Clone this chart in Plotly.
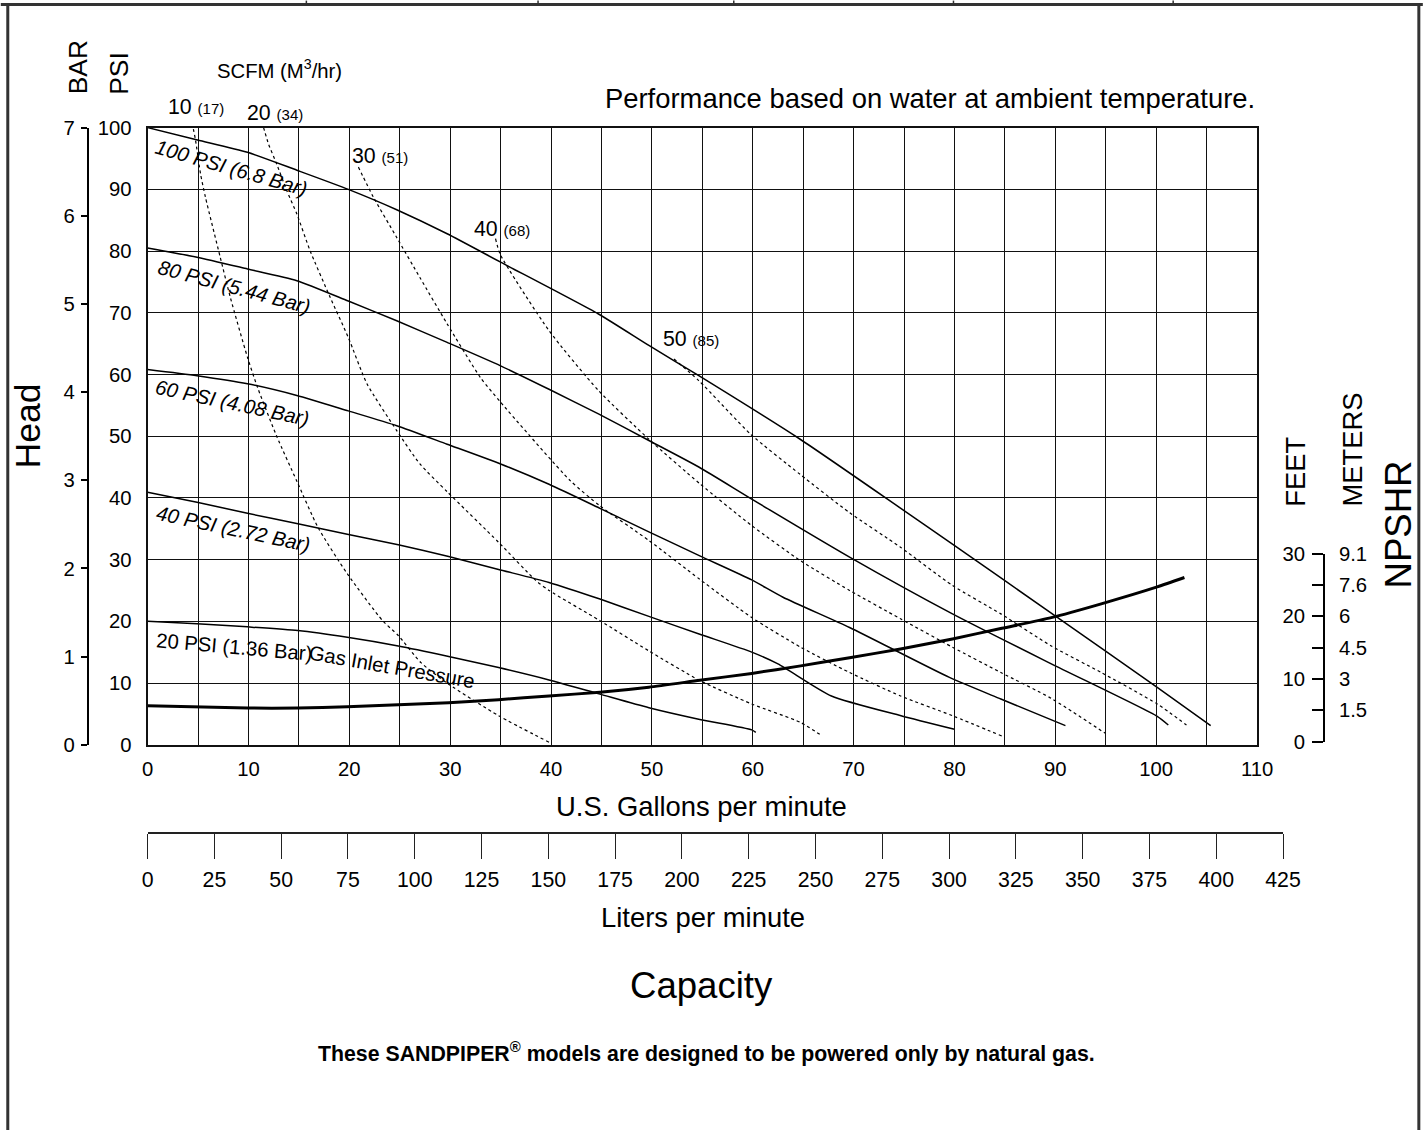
import plotly.graph_objects as go

FONT = "Liberation Sans, Arial, Helvetica, sans-serif"

# ---------------- data ----------------
# Gas inlet pressure curves: flow (US GPM) vs head (PSI)
psi100_gpm = [0, 4.95, 9.9, 14.8, 19.9, 24.7, 29.7, 35.0, 44.7, 49.7, 54.65, 64.7, 74.5, 79.8, 89.7, 100.1, 105.4]
psi100_head = [100, 98.0, 96.0, 93.1, 90.0, 86.7, 82.8, 78.2, 69.8, 64.7, 59.8, 49.5, 38.5, 32.5, 21.2, 9.3, 3.1]

psi80_gpm = [0, 4.9, 9.9, 14.8, 19.9, 24.7, 29.7, 35.0, 39.8, 44.7, 49.7, 54.65, 59.9, 69.6, 79.8, 89.6, 100.1, 101.2]
psi80_head = [80.5, 79.0, 77.1, 75.2, 71.9, 68.7, 65.2, 61.4, 57.6, 53.6, 49.3, 45.0, 39.8, 30.4, 21.2, 13.1, 4.6, 3.2]

psi60_gpm = [0, 4.9, 9.9, 14.8, 19.9, 24.7, 29.7, 35.0, 39.8, 44.85, 49.7, 54.75, 59.9, 63.0, 69.6, 79.5, 84.6, 91.0]
psi60_head = [60.8, 59.8, 58.5, 56.6, 54.1, 51.7, 48.7, 45.5, 42.2, 38.3, 34.5, 30.6, 26.7, 23.9, 19.0, 10.9, 7.4, 3.1]

psi40_gpm = [0, 4.9, 9.9, 14.9, 19.8, 24.85, 29.85, 34.8, 39.8, 44.85, 49.7, 54.75, 59.9, 62.5, 67.8, 74.7, 80.0]
psi40_head = [40.9, 39.3, 37.5, 35.8, 34.1, 32.4, 30.5, 28.4, 26.3, 23.6, 20.8, 17.9, 15.0, 13.1, 7.9, 4.7, 2.5]

psi20_gpm = [0, 4.9, 9.9, 14.9, 19.8, 24.85, 29.85, 34.8, 39.8, 44.85, 49.7, 54.75, 59.9, 60.3]
psi20_head = [20.0, 19.6, 19.1, 18.5, 17.4, 16.0, 14.3, 12.5, 10.5, 8.2, 6.0, 4.1, 2.4, 2.0]

# Air (gas) consumption curves, SCFM: flow (GPM) vs head (PSI)
scfm10_gpm = [4.3, 4.75, 5.25, 5.74, 7.2, 8.2, 9.9, 10.9, 12.8, 14.8, 16.9, 19.8, 23.3, 24.85, 27.1, 29.85, 34.8, 39.8]
scfm10_head = [101.7, 98.0, 92.5, 88.7, 79.0, 72.5, 62.8, 57.9, 50.0, 42.7, 35.2, 27.7, 20.1, 17.7, 13.3, 9.8, 4.7, 0.4]

scfm20_gpm = [11.5, 12.0, 12.8, 13.8, 14.8, 16.1, 18.1, 19.9, 21.75, 24.7, 27.0, 29.7, 34.8, 38.5, 39.8, 44.85, 49.7, 54.75, 59.9, 64.75, 66.8]
scfm20_head = [100, 97.3, 94.1, 89.8, 86.0, 80.1, 72.5, 66.0, 58.5, 50.9, 45.5, 41.0, 32.8, 26.6, 25.0, 20.1, 15.2, 10.4, 6.6, 3.6, 1.5]

scfm30_gpm = [20.9, 22.4, 24.7, 27.0, 29.7, 33.0, 35.0, 41.9, 44.85, 49.7, 54.75, 59.9, 64.75, 69.6, 74.65, 79.8, 84.85]
scfm30_head = [93.6, 88.7, 82.2, 75.7, 68.2, 59.5, 55.5, 42.8, 38.7, 33.1, 26.8, 20.6, 15.8, 11.7, 7.9, 4.7, 1.3]

scfm40_gpm = [34.5, 34.95, 39.8, 44.7, 49.7, 54.75, 59.9, 64.75, 69.6, 74.65, 79.8, 84.6, 89.6, 95.0]
scfm40_head = [82.0, 79.5, 67.1, 57.4, 49.5, 42.3, 35.5, 29.8, 25.0, 20.4, 15.8, 11.7, 7.5, 1.8]

scfm50_gpm = [52.2, 54.65, 59.8, 64.7, 69.6, 74.65, 79.8, 84.6, 89.6, 94.55, 100.1, 103.0]
scfm50_head = [62.5, 59.0, 50.3, 43.8, 37.6, 32.0, 25.8, 21.2, 16.0, 11.7, 6.6, 3.2]

# NPSHR curve: flow (GPM) vs feet
npshr_gpm = [0, 9.9, 14.9, 19.8, 24.85, 29.85, 34.8, 39.8, 44.85, 49.7, 54.75, 59.9, 64.75, 69.6, 74.65, 79.8, 84.7, 89.6, 94.55, 100.1, 102.8]
npshr_ft = [5.74, 5.37, 5.37, 5.58, 5.9, 6.2, 6.7, 7.3, 7.9, 8.7, 9.8, 10.9, 12.1, 13.4, 14.8, 16.4, 18.1, 19.8, 22.0, 24.7, 26.2]

# Tick values / labels
gpm_ticks = list(range(0, 111, 10))
lpm_ticks = list(range(0, 426, 25))
psi_ticks = list(range(0, 101, 10))
bar_ticks = list(range(0, 8))
feet_ticks = [0, 10, 20, 30]
feet_minor = [5, 15, 25]
meter_ticks = [5, 10, 15, 20, 25, 30]
meter_labels = ["1.5", "3", "4.5", "6", "7.6", "9.1"]

pressure_labels = ["<i>100 PSI (6.8 Bar)</i>", "<i>80 PSI (5.44 Bar)</i>", "<i>60 PSI (4.08 Bar)</i>",
                   "<i>40 PSI (2.72 Bar)</i>", "20 PSI (1.36 Bar)", "Gas Inlet Pressure"]
scfm_labels = [("10", "(17)"), ("20", "(34)"), ("30", "(51)"), ("40", "(68)"), ("50", "(85)")]

# ---------------- figure geometry ----------------
# target positions are given in picture pixels; the page is captured slightly
# scaled/offset, so convert picture pixels to page pixels.
SX, SY = 0.9847, 0.9806
CX, CY = -5.3, -10.6
WF, HF = 1441, 1142

def P(px):
    return (px / SX + CX) / WF

def Q(py):
    return 1 - (py / SY + CY) / HF

def F(sz):
    return round(sz / SX, 1)

fig = go.Figure()

solid = dict(color="black", width=1.5, shape="spline", smoothing=0.6)
for gx, gy in [(psi100_gpm, psi100_head), (psi80_gpm, psi80_head), (psi60_gpm, psi60_head),
               (psi40_gpm, psi40_head), (psi20_gpm, psi20_head)]:
    fig.add_trace(go.Scatter(x=gx, y=gy, mode="lines", line=solid, hoverinfo="skip"))

dashed = dict(color="black", width=1.2, dash="3px,3px", shape="spline", smoothing=0.6)
for gx, gy in [(scfm10_gpm, scfm10_head), (scfm20_gpm, scfm20_head), (scfm30_gpm, scfm30_head),
               (scfm40_gpm, scfm40_head), (scfm50_gpm, scfm50_head)]:
    fig.add_trace(go.Scatter(x=gx, y=gy, mode="lines", line=dashed, hoverinfo="skip"))

fig.add_trace(go.Scatter(x=npshr_gpm, y=npshr_ft, mode="lines", xaxis="x", yaxis="y3",
                         line=dict(color="black", width=3, shape="spline", smoothing=0.6), hoverinfo="skip"))

# dummy traces so that auxiliary axes are drawn
fig.add_trace(go.Scatter(x=[None], y=[None], xaxis="x", yaxis="y2", hoverinfo="skip"))
fig.add_trace(go.Scatter(x=[None], y=[None], xaxis="x2", yaxis="y3", hoverinfo="skip"))
fig.add_trace(go.Scatter(x=[None], y=[None], xaxis="x", yaxis="y4", hoverinfo="skip"))

tickfont = dict(family=FONT, size=F(20), color="black")
GRID = "#111"

fig.update_layout(
    width=WF, height=HF,
    margin=dict(l=0, r=0, t=0, b=0),
    paper_bgcolor="white", plot_bgcolor="rgba(0,0,0,0)",
    showlegend=False,
    font=dict(family=FONT, color="black"),
    xaxis=dict(domain=[P(147), P(1258)], range=[0, 110], tickvals=gpm_ticks,
               showgrid=True, gridcolor=GRID, gridwidth=1, zeroline=False,
               minor=dict(dtick=5, tick0=0, showgrid=True, gridcolor=GRID, gridwidth=1, ticks=""),
               showline=True, linecolor="#111", linewidth=2, mirror=True,
               ticks="", tickfont=tickfont, ticklabelstandoff=5, fixedrange=True),
    yaxis=dict(domain=[Q(744), Q(127)], range=[0, 100], tickvals=psi_ticks,
               showgrid=True, gridcolor=GRID, gridwidth=1, zeroline=False,
               showline=True, linecolor="#111", linewidth=2, mirror=True,
               ticks="", tickfont=tickfont, ticklabelstandoff=10, fixedrange=True),
    yaxis2=dict(overlaying="y", anchor="free", position=P(87), side="left", range=[0, 7],
                tickvals=bar_ticks, showgrid=False, zeroline=False, showline=True,
                linecolor="black", linewidth=1.5, ticks="outside", ticklen=6, tickwidth=1.5,
                tickcolor="black", tickfont=tickfont, ticklabelstandoff=2),
    xaxis2=dict(domain=[P(147), P(1284)], anchor="free", position=Q(832), side="bottom",
                range=[0, 425], tickvals=lpm_ticks, showgrid=False, zeroline=False,
                showline=True, linecolor="#222", linewidth=2, ticks="outside", ticklen=25,
                tickwidth=1.2, tickcolor="#222", tickfont=dict(family=FONT, size=F(21), color="black"),
                ticklabelstandoff=3),
    yaxis3=dict(domain=[Q(741), Q(553)], anchor="free", position=P(1325), side="left",
                range=[0, 30], tickvals=feet_ticks, showgrid=False,
                zeroline=False, showline=True, linecolor="black", linewidth=1.5,
                ticks="outside", ticklen=11, tickwidth=1.5, tickcolor="black",
                minor=dict(tickvals=feet_minor, ticks="outside", ticklen=11, tickwidth=1.5,
                           tickcolor="black", showgrid=False),
                tickfont=tickfont, ticklabelstandoff=3),
    yaxis4=dict(overlaying="y3", anchor="free", position=P(1325), side="right",
                range=[0, 30], tickvals=meter_ticks, ticktext=meter_labels, showgrid=False,
                zeroline=False, showline=False, ticks="", tickfont=tickfont, ticklabelstandoff=14),
)

ann = []
def text(x, y, s, size, xa="center", ya="middle", angle=0):
    ann.append(dict(x=P(x), y=Q(y), xref="paper", yref="paper", text=s, showarrow=False,
                    xanchor=xa, yanchor=ya, textangle=angle,
                    font=dict(family=FONT, size=F(size), color="black")))

# axis titles / headers
text(77, 96, "BAR", 26, ya="bottom", angle=-90)
text(118, 96, "PSI", 26, ya="bottom", angle=-90)
text(215, 68, "SCFM (M<sup>3</sup>/hr)", 20, xa="left")
text(1258, 98, "Performance based on water at ambient temperature.", 27, xa="right")
text(27, 425, "Head", 35, angle=-90)
text(1297, 508, "FEET", 27, ya="bottom", angle=-90)
text(1354, 508, "METERS", 27, ya="bottom", angle=-90)
text(1400, 524, "NPSHR", 36, angle=-90)
text(702, 806, "U.S. Gallons per minute", 27)
text(703, 917, "Liters per minute", 27)
text(702, 985, "Capacity", 36)
text(707, 1052, "<b>These SANDPIPER<sup>®</sup> models are designed to be powered only by natural gas.</b>", 21)

# pressure curve labels
for s, (cx, cy, ang) in zip(pressure_labels, [(231, 167, 16), (234, 286, 15), (232, 402, 12),
                                             (233, 528, 12), (234, 646, 5), (392, 666, 10)]):
    text(cx, cy, s, 20, angle=ang)

# SCFM labels
for (a, b), (lx, ly) in zip(scfm_labels, [(165, 106), (245, 112), (350, 155), (472, 228), (661, 338)]):
    text(lx, ly, a + " <span style='font-size:15px'>" + b + "</span>", 21, xa="left")

fig.update_layout(annotations=ann)

# outer frame
shp = []
def line(x0, y0, x1, y1, w=3, c="#333"):
    shp.append(dict(type="line", xref="paper", yref="paper", x0=P(x0), y0=Q(y0), x1=P(x1), y1=Q(y1),
                    line=dict(color=c, width=w)))
line(0, 4, 1424, 4)
line(7, 4, 7, 1130)
line(1420, 4, 1420, 1130)
for xv in [306, 538, 734, 954, 1174]:
    line(xv, 0, xv, 4, w=1.5)
fig.update_layout(shapes=shp)

fig.write_html("out.html", config={"displayModeBar": False},
               post_script="document.body.style.margin='0px';document.body.style.overflow='hidden';")
